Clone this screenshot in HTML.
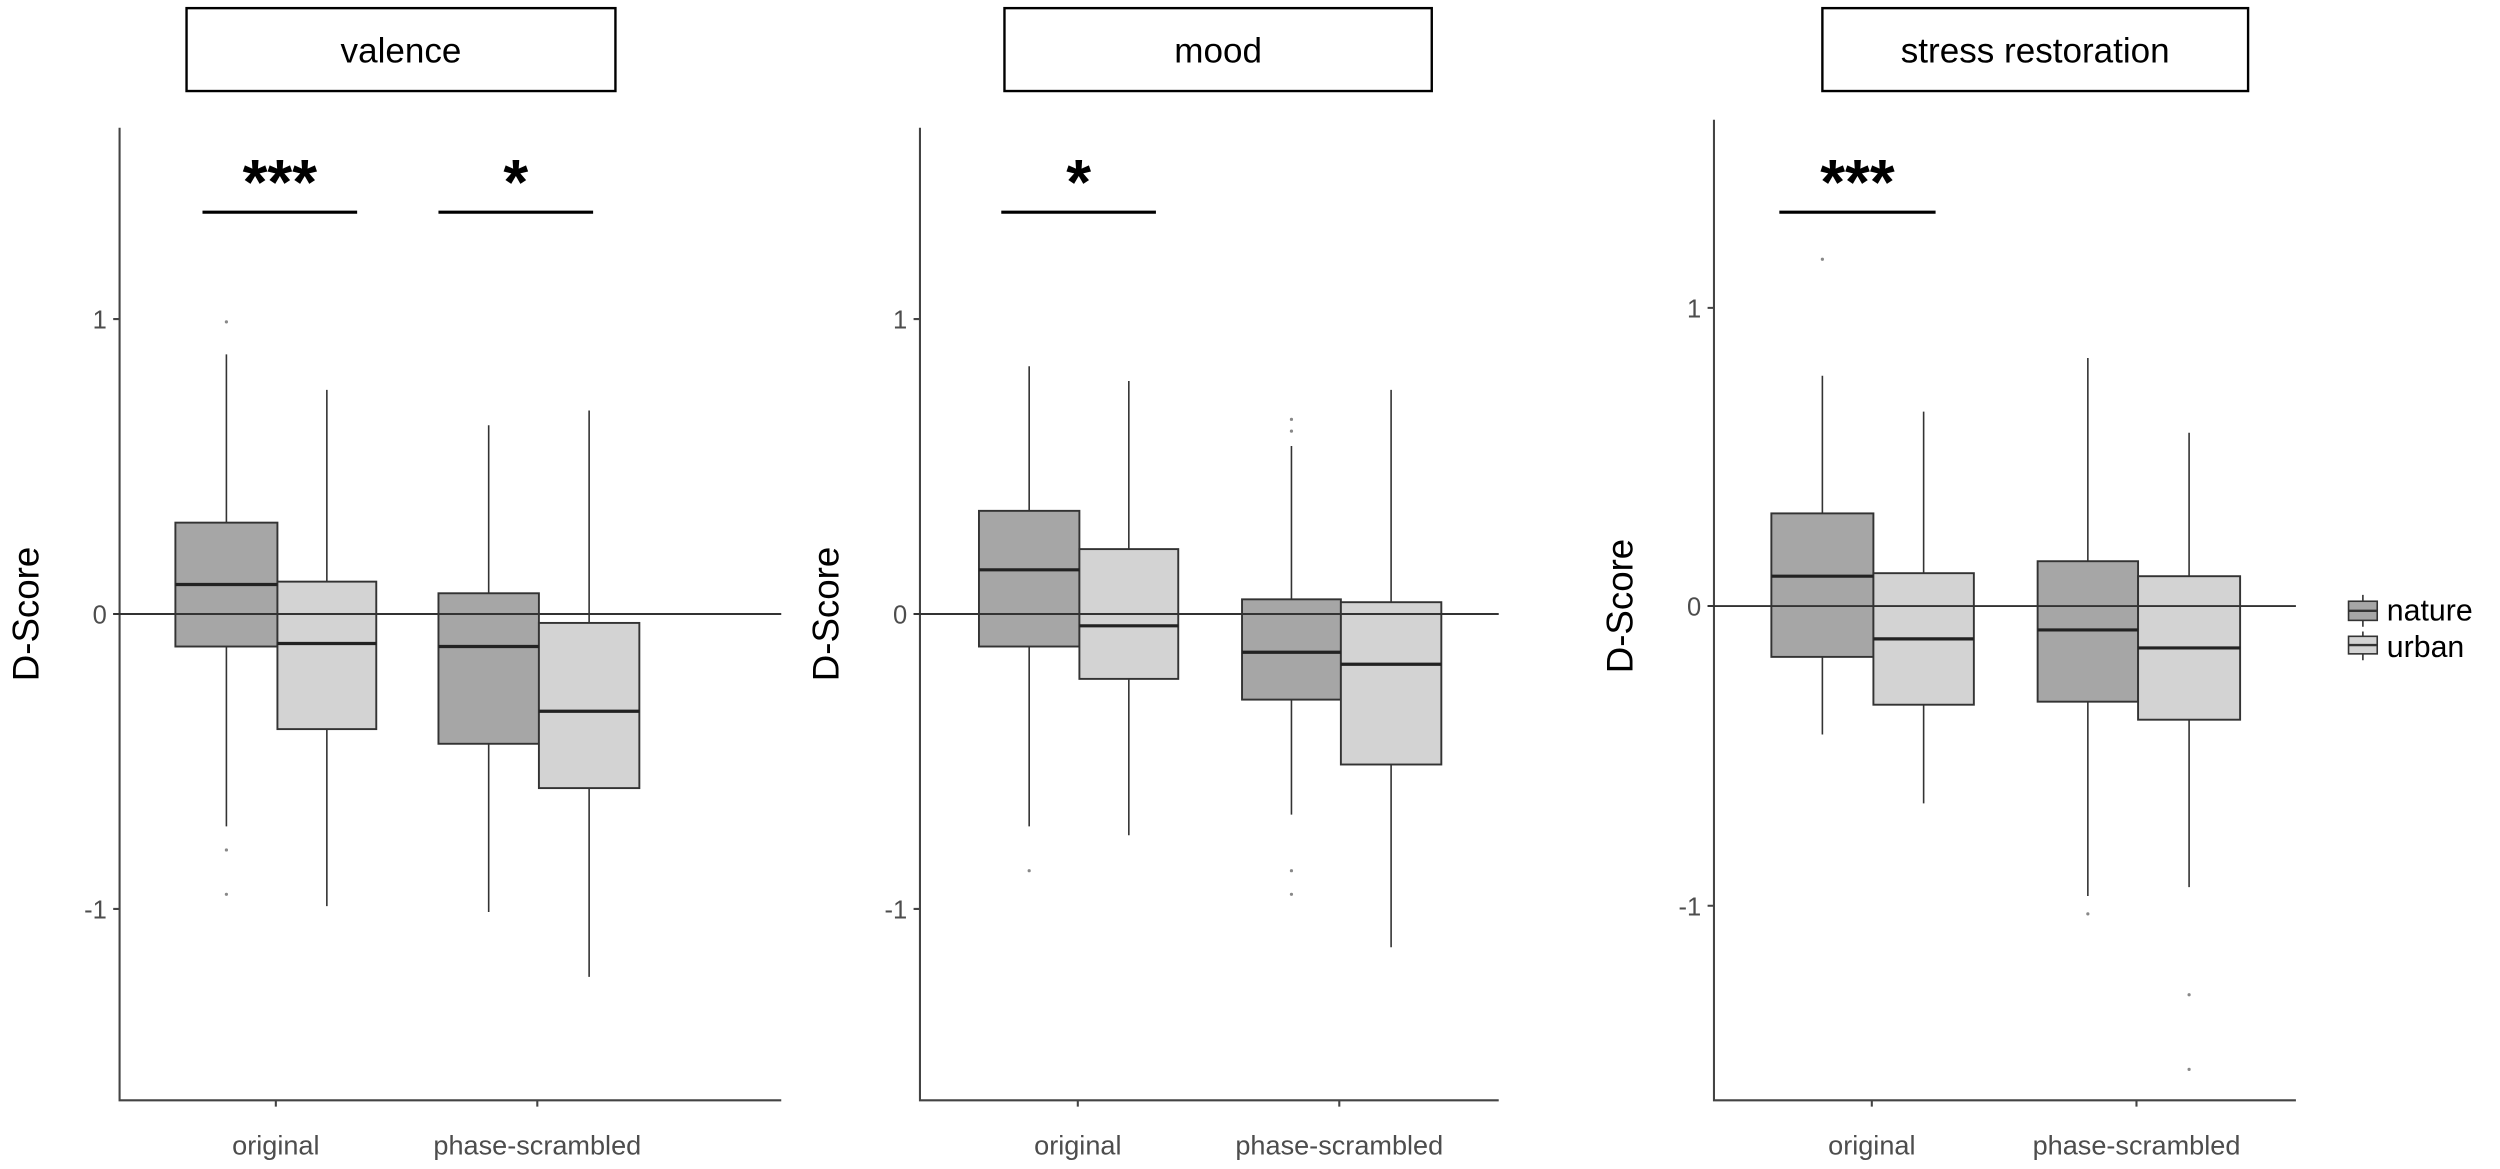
<!DOCTYPE html>
<html><head><meta charset="utf-8"><style>
html,body{margin:0;padding:0;background:#fff}
svg{display:block}
text{font-family:"Liberation Sans",Arial,sans-serif}
</style></head><body>
<svg width="2500" height="1169" viewBox="0 0 1568 733" xmlns="http://www.w3.org/2000/svg">
<g fill="none" stroke="#000" stroke-width="1.5">
<rect x="117" y="5" width="269" height="52"/>
<rect x="630" y="5" width="268" height="52"/>
<rect x="1143" y="5" width="267" height="52"/>
</g>
<g font-size="22" text-anchor="middle" fill="#000">
<text x="251.5" y="39">valence</text>
<text x="764" y="39">mood</text>
<text x="1276.5" y="39">stress restoration</text>
</g>
<g stroke="#444" stroke-width="1.3" fill="none">
<path d="M75 80V690H490"/>
<path d="M577 80V690H940"/>
<path d="M1075 75V690H1440"/>
<path d="M71 200h4M71 385h4M71 570h4"/>
<path d="M573 200h4M573 385h4M573 570h4"/>
<path d="M1071 193h4M1071 380h4M1071 568h4"/>
<path d="M173 690v4M337 690v4M676 690v4M840 690v4M1174 690v4M1340 690v4"/>
</g>
<g font-size="16" fill="#4d4d4d" text-anchor="end">
<text x="67" y="206">1</text><text x="67" y="391">0</text><text x="67" y="576">-1</text>
<text x="569" y="206">1</text><text x="569" y="391">0</text><text x="569" y="576">-1</text>
<text x="1067" y="199">1</text><text x="1067" y="386">0</text><text x="1067" y="574">-1</text>
</g>
<g font-size="17" fill="#4d4d4d" text-anchor="middle">
<text x="173" y="724">original</text><text x="337" y="724">phase-scrambled</text>
<text x="676" y="724">original</text><text x="840" y="724">phase-scrambled</text>
<text x="1174" y="724">original</text><text x="1340" y="724">phase-scrambled</text>
</g>
<g font-size="23" fill="#000" text-anchor="middle">
<text transform="translate(24 385) rotate(-90)">D-Score</text>
<text transform="translate(526 385) rotate(-90)">D-Score</text>
<text transform="translate(1024 380) rotate(-90)">D-Score</text>
</g>
<g stroke="#333" stroke-width="1">
<path d="M142 222.2V327.7M142 405.4V518.2"/>
<path d="M205 244.4V364.7M205 457.2V568.2"/>
<path d="M306.5 266.6V372M306.5 466.4V571.9"/>
<path d="M369.5 257.4V390.6M369.5 494.2V612.6"/>
<path d="M645.5 229.6V320.3M645.5 405.4V518.2"/>
<path d="M708 238.9V344.3M708 425.7V523.8"/>
<path d="M810 279.6V375.8M810 438.7V510.8"/>
<path d="M872.5 244.4V377.6M872.5 479.4V594"/>
<path d="M1143 235.6V321.9M1143 411.9V460.6"/>
<path d="M1206.5 258.1V359.4M1206.5 441.9V503.8"/>
<path d="M1309.5 224.4V351.9M1309.5 440V561.9"/>
<path d="M1373 271.3V361.3M1373 451.3V556.3"/>
</g>
<g stroke="#333" stroke-width="1.2">
<rect x="110" y="327.7" width="64" height="77.7" fill="#a6a6a6"/>
<rect x="174" y="364.7" width="62" height="92.5" fill="#d3d3d3"/>
<rect x="275" y="372" width="63" height="94.4" fill="#a6a6a6"/>
<rect x="338" y="390.6" width="63" height="103.6" fill="#d3d3d3"/>
<rect x="614" y="320.3" width="63" height="85.1" fill="#a6a6a6"/>
<rect x="677" y="344.3" width="62" height="81.4" fill="#d3d3d3"/>
<rect x="779" y="375.8" width="62" height="62.9" fill="#a6a6a6"/>
<rect x="841" y="377.6" width="63" height="101.8" fill="#d3d3d3"/>
<rect x="1111" y="321.9" width="64" height="90" fill="#a6a6a6"/>
<rect x="1175" y="359.4" width="63" height="82.5" fill="#d3d3d3"/>
<rect x="1278" y="351.9" width="63" height="88.1" fill="#a6a6a6"/>
<rect x="1341" y="361.3" width="64" height="90" fill="#d3d3d3"/>
</g>
<g stroke="#222" stroke-width="2">
<path d="M110 366.5h64M174 403.5h62M275 405.4h63M338 446h63"/>
<path d="M614 357.3h63M677 392.4h62M779 409h62M841 416.5h63"/>
<path d="M1111 361.3h64M1175 400.6h63M1278 395h63M1341 406.3h64"/>
</g>
<g stroke="#333" stroke-width="1.2">
<path d="M71 385H490M573 385H940M1071 380H1440"/>
</g>
<g fill="#888">
<circle cx="142" cy="201.8" r="1"/><circle cx="142" cy="533" r="1"/><circle cx="142" cy="560.8" r="1"/>
<circle cx="645.5" cy="546" r="1"/>
<circle cx="810" cy="270.3" r="1"/><circle cx="810" cy="262.9" r="1"/><circle cx="810" cy="546" r="1"/><circle cx="810" cy="560.8" r="1"/>
<circle cx="1143" cy="162.5" r="1"/><circle cx="1309.5" cy="573.1" r="1"/>
<circle cx="1373" cy="623.8" r="1"/><circle cx="1373" cy="670.6" r="1"/>
</g>
<g stroke="#000" stroke-width="2">
<path d="M127 133h97M275 133h97M628 133h97M1116 133h98"/>
</g>
<g font-size="40" font-weight="bold" fill="#000" text-anchor="middle">
<text x="175.5" y="128">***</text><text x="323.5" y="128">*</text>
<text x="676.5" y="128">*</text><text x="1165" y="128">***</text>
</g>
<g stroke="#333" stroke-width="1">
<path d="M1482 373v4M1482 389v4M1482 396v3M1482 410v4"/>
<rect x="1473" y="377" width="18" height="12" fill="#a6a6a6"/>
<rect x="1473" y="399" width="18" height="11" fill="#d3d3d3"/>
<path d="M1473 383h18M1473 404.5h18" stroke-width="1.5"/>
</g>
<g font-size="19" fill="#000">
<text x="1497" y="389">nature</text><text x="1497" y="412">urban</text>
</g>
</svg>
</body></html>
